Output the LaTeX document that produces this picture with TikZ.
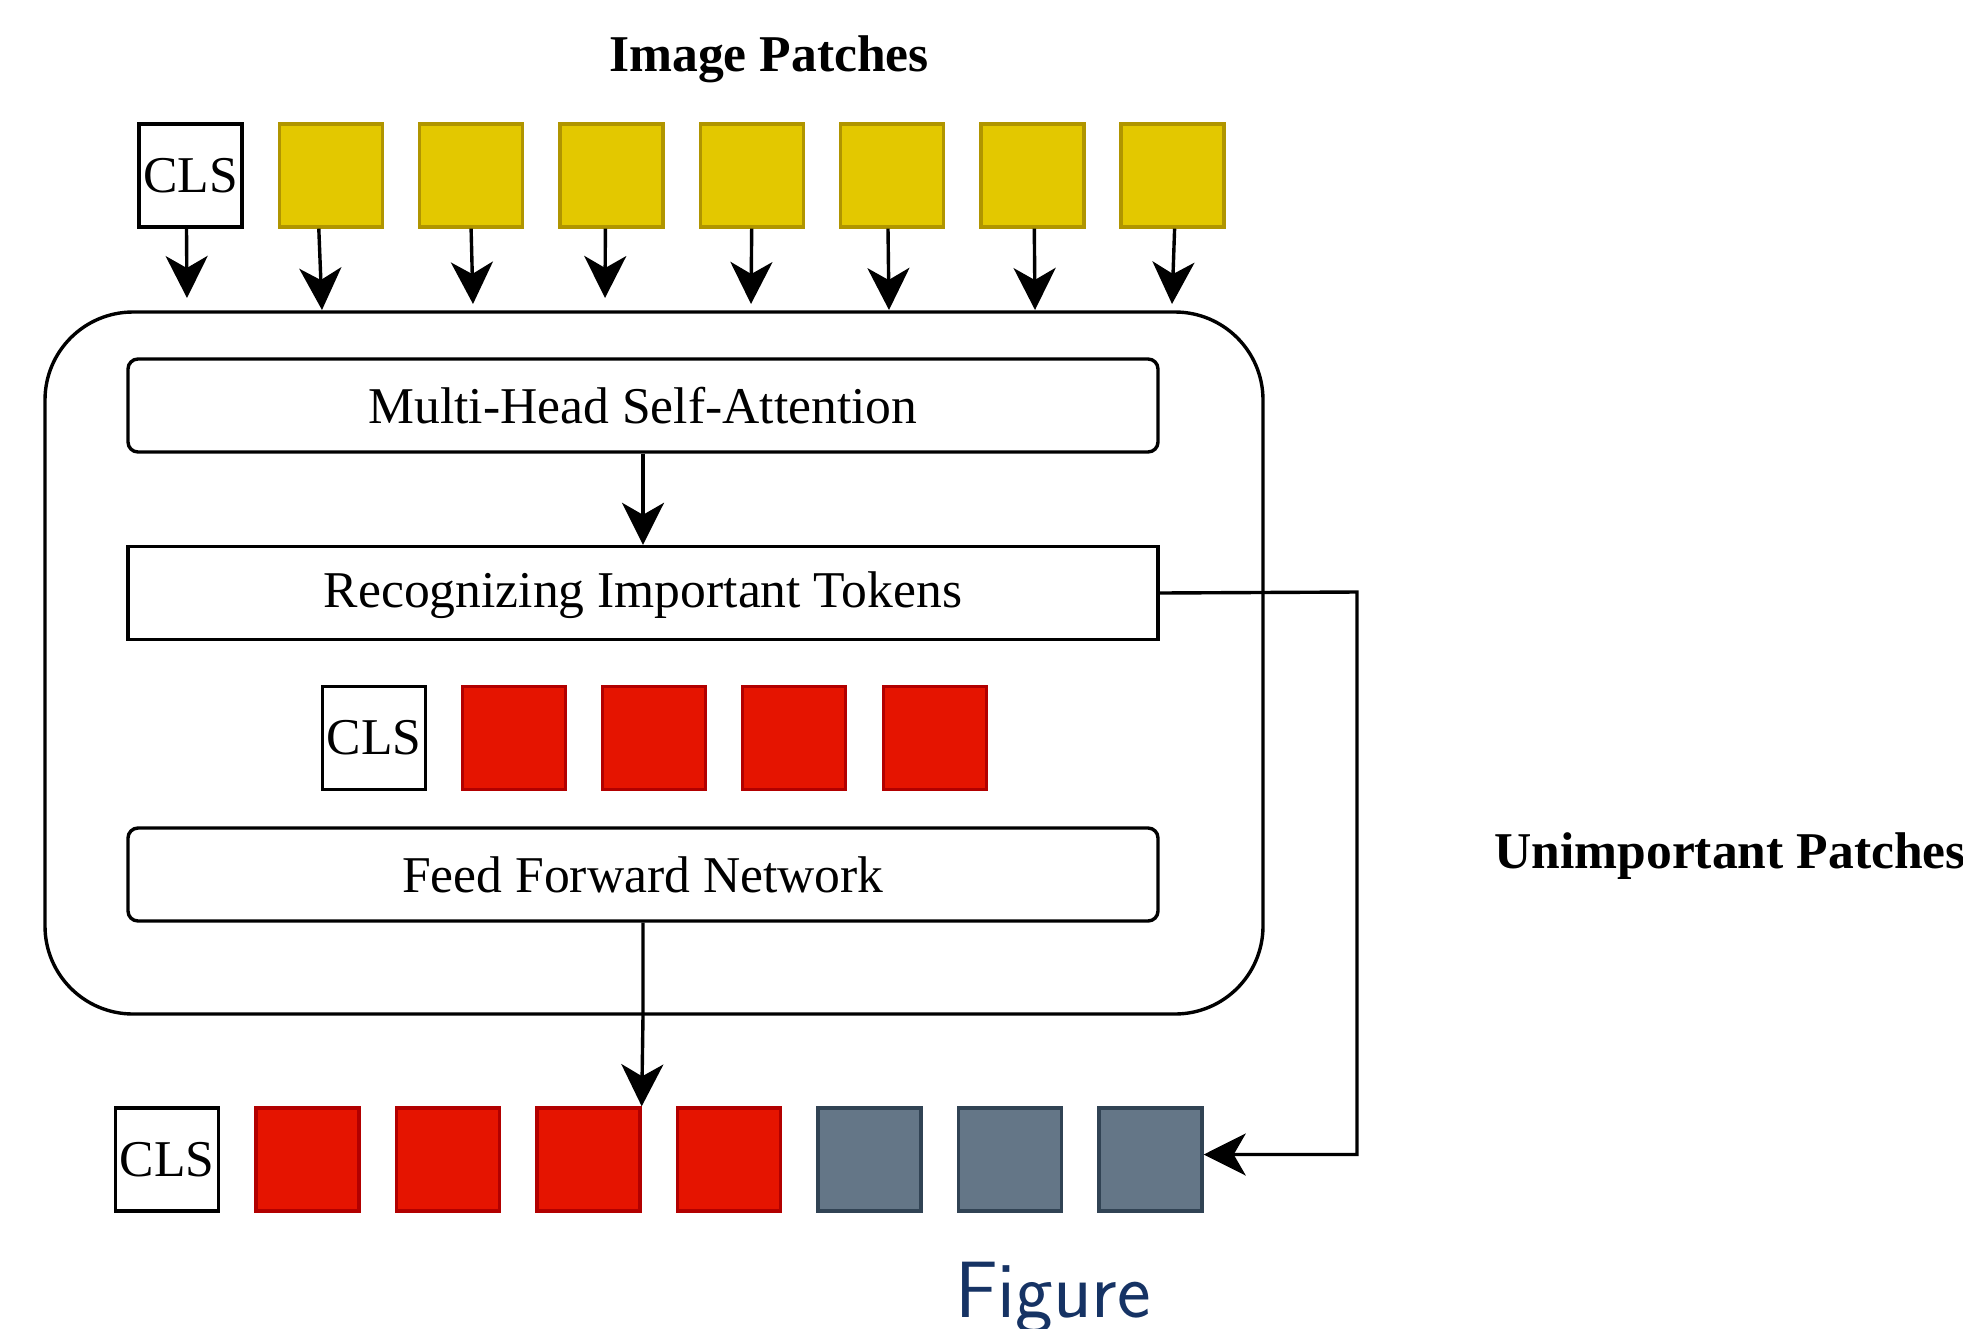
\documentclass[tikz,border=0pt]{standalone}
\usepackage{fontspec}
\setmainfont{Liberation Serif}
\usetikzlibrary{arrows.meta,positioning,calc}
\definecolor{patchfill}{HTML}{E3C800}
\definecolor{patchline}{HTML}{B09500}
\definecolor{keepfill}{HTML}{E51400}
\definecolor{keepline}{HTML}{B20000}
\definecolor{dropfill}{HTML}{647687}
\definecolor{dropline}{HTML}{314354}
\definecolor{figblue}{RGB}{22,51,100}

\begin{document}
\begin{tikzpicture}[x=0.5pt, y=-0.5pt,
    every node/.style={font=\fontsize{25.8}{31}\selectfont},
    token/.style={draw, minimum size=51.5pt, inner sep=0pt, line width=1.7pt},
    clstok/.style={token, draw=black, fill=white, line width=1.8pt},
    imgtok/.style={token, draw=patchline, fill=patchfill},
    keeptok/.style={token, draw=keepline, fill=keepfill},
    droptok/.style={token, draw=dropline, fill=dropfill},
    layer/.style={draw, line width=1.7pt, minimum width=515pt, minimum height=46.5pt, inner sep=0pt},
    arr/.style={-{Stealth[length=21pt, width=21pt, inset=6pt]}, line width=1.7pt}]
                    \useasboundingbox (0,0) rectangle (1963,1328);
                    % input tokens
                    \node[font=\fontsize{25.8}{31}\selectfont\bfseries] (title) at (769,59) {Image Patches};
                    \node[clstok] (cls1) at (190.5,175.5) {CLS};
                    \node[imgtok] (y1) at (330.8,175.5) {};
                    \node[imgtok] (y2) at (471.1,175.5) {};
                    \node[imgtok] (y3) at (611.4,175.5) {};
                    \node[imgtok] (y4) at (751.7,175.5) {};
                    \node[imgtok] (y5) at (892,175.5) {};
                    \node[imgtok] (y6) at (1032.3,175.5) {};
                    \node[imgtok] (y7) at (1172.6,175.5) {};
                    % encoder block
                    \node[draw, line width=1.7pt, rounded corners=44pt, minimum width=609pt, minimum height=351pt] (block) at (654,663) {};
                    \coordinate (e0) at (187,298);
                    \coordinate (e1) at (322,310);
                    \coordinate (e2) at (473,304);
                    \coordinate (e3) at (605,298);
                    \coordinate (e4) at (751,304);
                    \coordinate (e5) at (889,310);
                    \coordinate (e6) at (1035,310);
                    \coordinate (e7) at (1172,304);
                    \draw[arr] ([xshift=-2pt]cls1.south) -- (e0);
                    \draw[arr] ([xshift=-6pt]y1.south) -- (e1);
                    \draw[arr] (y2.south) -- (e2);
                    \draw[arr] ([xshift=-3pt]y3.south) -- (e3);
                    \draw[arr] (y4.south) -- (e4);
                    \draw[arr] ([xshift=-2pt]y5.south) -- (e5);
                    \draw[arr] ([xshift=1pt]y6.south) -- (e6);
                    \draw[arr] ([xshift=1pt]y7.south) -- (e7);
                    \node[layer, rounded corners=5pt] (mhsa) at (643,405.5) {Multi-Head Self-Attention};
                    \node[layer, text depth=3pt] (rit) at (643,593) {Recognizing Important Tokens};
                    \draw[arr] (mhsa) -- (rit);
                    \node[clstok] (cls2) at (374,738) {CLS};
                    \node[keeptok] (k1) at (514,738) {};
                    \node[keeptok] (k2) at (654,738) {};
                    \node[keeptok] (k3) at (794,738) {};
                    \node[keeptok] (k4) at (935,738) {};
                    \node[layer, rounded corners=5pt] (ffn) at (643,874.5) {Feed Forward Network};
                    % output tokens
                    \node[clstok] (cls3) at (167,1159.5) {CLS};
                    \node[keeptok] (o1) at (307.5,1159.5) {};
                    \node[keeptok] (o2) at (448,1159.5) {};
                    \node[keeptok] (o3) at (588.5,1159.5) {};
                    \node[keeptok] (o4) at (729,1159.5) {};
                    \node[droptok] (d1) at (869.5,1159.5) {};
                    \node[droptok] (d2) at (1010,1159.5) {};
                    \node[droptok] (d3) at (1150.5,1159.5) {};
                    \draw[arr] (ffn.south) -- (ffn.south |- block.south) -- (o3.north east);
                    \coordinate (turn) at (1357,592);
                    \draw[arr] (rit.east) -- (turn) |- ([yshift=2.5pt]d3.east);
                    \node[font=\fontsize{25.8}{31}\selectfont\bfseries] (skip) at (1730,856) {Unimportant Patches};
                    \node[font=\sffamily\fontsize{40}{46}\selectfont, text=figblue, anchor=base] (cap) at (1053,1317) {Figure};
                \end{tikzpicture}
\end{document}
